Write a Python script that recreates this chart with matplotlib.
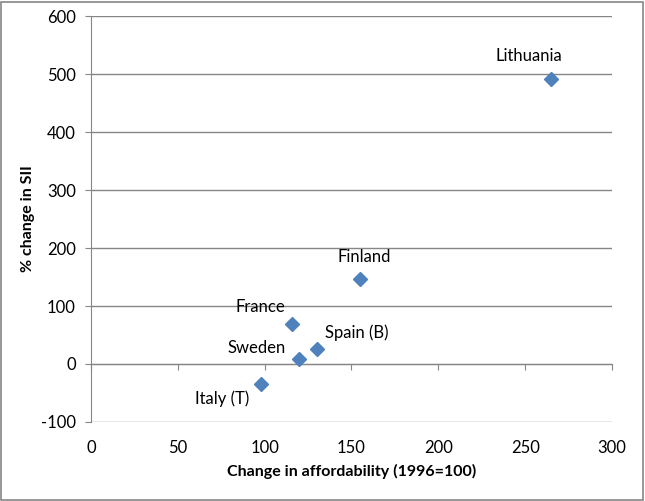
import matplotlib
matplotlib.use("Agg")
from matplotlib import pyplot as plt
from matplotlib.patches import Rectangle

# data
countries = ["Lithuania", "Finland", "France", "Spain (B)", "Sweden", "Italy (T)"]
affordability = [265, 155, 116, 130, 120, 98]
sii_change = [492, 147, 69, 26, 8, -34]

# label offsets (points) relative to each marker
offsets = {
    "Lithuania": (-16, 16),
    "Finland": (3, 16),
    "France": (-23, 12),
    "Spain (B)": (29, 12),
    "Sweden": (-31, 8),
    "Italy (T)": (-28, -11),
}

plt.rcParams["font.family"] = ["Lato", "DejaVu Sans"]
plt.rcParams["axes.unicode_minus"] = False
grey = "#868686"
blue = "#4F81BD"
fs = 12

fig = plt.figure(figsize=(6.45, 5.01), dpi=100)
ax = fig.add_axes([0.1411, 0.1577, 0.8077, 0.8103])

ax.set_xlim(0, 300)
ax.set_ylim(-100, 600)
ax.set_xticks(range(0, 301, 50))
ax.set_yticks(range(-100, 601, 100))

ax.grid(True, axis="y", color=grey, linewidth=1.0)
ax.set_axisbelow(True)

for s in ["top", "right"]:
    ax.spines[s].set_visible(False)
ax.spines["left"].set_color(grey)
ax.spines["bottom"].set_color(grey)
ax.spines["bottom"].set_position(("data", 0))

ax.tick_params(axis="x", direction="out", length=4, color=grey, labelbottom=False)
ax.tick_params(axis="y", direction="out", length=4, color=grey, pad=7, labelsize=fs)

sec = ax.secondary_xaxis("bottom")
sec.spines["bottom"].set_visible(False)
sec.set_xticks(range(0, 301, 50))
sec.tick_params(length=0, pad=13, labelsize=fs)
sec.set_xlabel("Change in affordability (1996=100)", fontweight="bold", fontsize=11.5, labelpad=6)

ax.set_ylabel("% change in SII", fontweight="bold", fontsize=11.5, labelpad=4)

ax.plot(affordability, sii_change, linestyle="none", marker="D", markersize=7.5,
        color=blue, markeredgecolor=blue, zorder=3)

for name, x, y in zip(countries, affordability, sii_change):
    ax.annotate(name, (x, y), xytext=offsets[name], textcoords="offset points",
                ha="center", va="center", fontsize=fs)

fig.patches.append(Rectangle((0.002, 0.002), 0.995, 0.995, transform=fig.transFigure,
                             fill=False, edgecolor=grey, linewidth=1.2))

fig.savefig("out.png", dpi=100)
